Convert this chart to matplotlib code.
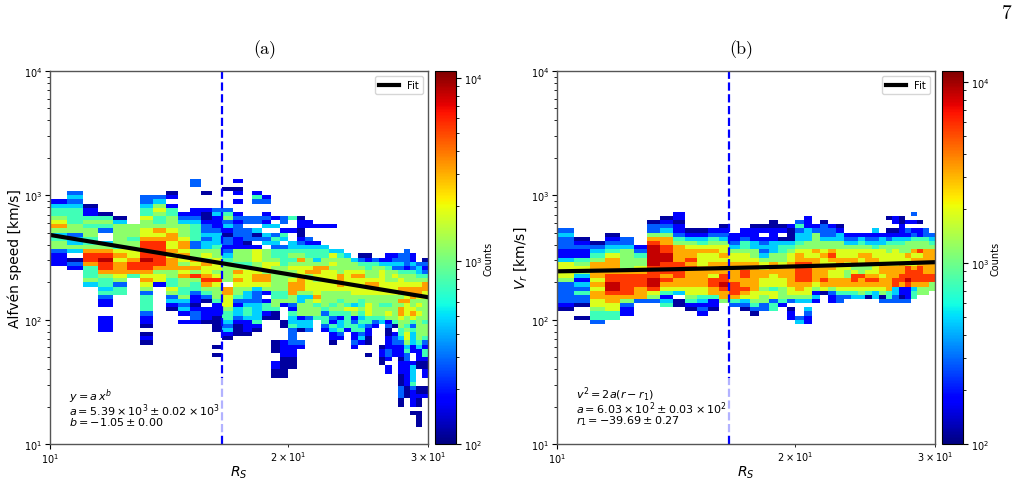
import numpy as np
import matplotlib
matplotlib.use('Agg')
import matplotlib.pyplot as plt
from matplotlib.colors import LogNorm

# Histogram counts are kept as one string per R_S bin: (top speed bin, classes going down).
# "." is an empty cell, a digit is an index into count_classes
count_classes = [115, 176, 281, 472, 750, 1150, 1840, 3200, 5670, 8650]

r_edges = np.arange(10, 30.5, 0.5)
speed_edges = np.logspace(1, 4, 91)

alfven_cols = [
    (58, "1344567534552111"),
    (60, "232344445523353.021"),
    (57, "01145455445788744453"),
    (55, "04542..3578988754434211..1111"),
    (54, "0355555467677765244"),
    (52, "5554556678874"),
    (59, "22344655667888898876765244442110.010"),
    (59, "2356544576788888875661"),
    (60, "01.14455567766767775544652310"),
    (55, "1235556776765767554453231.1"),
    (63, "22.....1123444422557675854421101221"),
    (60, "0...10012232335657667875420.1110"),
    (56, "231112333455666568655541110000...0.0"),
    (61, "0....245231022123455555.7766654432310"),
    (63, "1.01.1..121222111555457676554213321000"),
    (54, "22.22201555456666533234431110"),
    (60, "142...22.302.166655677632223333410"),
    (59, "12..1213.323.55566577651.14410"),
    (54, "1.3.243244565555554455400.....000..1100"),
    (54, "22.143.244445555554451...00...111100000"),
    (54, "4..1..3345456556777552143342222111000"),
    (54, "0110012345756667775335551330..21"),
    (53, "11..21344556756665355552332"),
    (52, "1...1344357765666764554"),
    (52, "1....344557666665555424421"),
    (52, "1.....36565666665554542143110"),
    (46, "3455557776554554133421"),
    (45, "3555666665554644441"),
    (44, "3556766665536512441121"),
    (45, "0245676666544543434231"),
    (45, "0144556766556664421100..0"),
    (44, "24555676655555421"),
    (44, "1356666665545543.....01100"),
    (45, "11345556665545651200111221.11"),
    (45, "123256566655555540.122111"),
    (45, "2232456677575776554432111011100022200"),
    (46, "222214556776766655456653422111111000"),
    (45, "113245567775567642433311..13333421111.0"),
    (43, "23345677656565555554311100....00100.0000"),
    (44, "02124577665555545554214410011..001"),
]

vr_cols = [
    (51, "23222113666652222210"),
    (49, "01211456531324220..0"),
    (48, "02345777767677665442"),
    (50, "012346777788998776644"),
    (49, "2235555578888875211"),
    (47, "12455678887772"),
    (53, "02257899999888998652"),
    (54, "0123577889988878764134"),
    (55, "11011245777788887763.00"),
    (51, "01356778787777665410"),
    (51, "013467666777776643121"),
    (51, "12456766777688774110"),
    (52, "0123566767878898775."),
    (50, "112356677777888742"),
    (51, "11244566778877876320"),
    (52, "0111335567777777665420"),
    (52, "01.123235667766565522"),
    (53, "0011133355777666466244"),
    (52, "01.03445567776655541"),
    (52, "1000345667777776652.011"),
    (53, "24233456778888877653...23"),
    (54, "111333556678888876653.3211"),
    (52, "1255557677777765131"),
    (53, "022235567667778760"),
    (52, "1223557876766775211"),
    (52, "0133556677666776422"),
    (50, "1235667665577642"),
    (50, "1235667756887643"),
    (50, "1345676655877653"),
    (50, "1235677756787640"),
    (51, "31234667666787633"),
    (50, "13356667776776502"),
    (54, "0..012455666777777442"),
    (54, "11.013456666777883322"),
    (54, "001113455667778871102"),
    (53, "1.213555766888981112"),
    (55, "2.1.12455767678887344"),
    (53, "0.1145586778888755"),
    (51, "2245577777788755"),
    (50, "23457777778855"),
]

# Fit parameters printed on each panel
alfven_a = 5.39e3
alfven_b = -1.05
vr_a = 6.03e2
vr_r1 = -39.69

r_break = 16.5
r_fit = [10, 11, 12, 14, 16, 18, 20, 22, 24, 26, 28, 30]


# Turns the column strings into the 2D array for pcolormesh
def buildCounts(cols):
    counts = np.full((len(speed_edges) - 1, len(r_edges) - 1), np.nan)
    for col, (top, levels) in enumerate(cols):
        for n, ch in enumerate(levels):
            if ch != '.':
                counts[top - n, col] = count_classes[int(ch)]
    return counts


def drawPanel(pos, cbar_pos, cols, vmax, fit, ylabel, title, title_x, note):
    ax = fig.add_axes(pos)
    mesh = ax.pcolormesh(r_edges, speed_edges, buildCounts(cols), cmap='jet',
                         norm=LogNorm(vmin=100, vmax=vmax))
    ax.set_xscale('log')
    ax.set_yscale('log')
    ax.set_xlim(10, 30)
    ax.set_ylim(10, 1e4)
    ax.axvline(r_break, color='b', linestyle='--', linewidth=1.6)
    ax.plot(r_fit, fit, color='k', linewidth=3, label='Fit')
    ax.legend(loc='upper right', fontsize=7.2)
    ax.set_xlabel(r'$R_S$', fontsize=10, labelpad=-1)
    ax.set_ylabel(ylabel, fontsize=10, labelpad=1)
    ax.tick_params(which='both', labelsize=7, pad=2)
    ax.text(0.05, 0.045, note, transform=ax.transAxes, fontsize=8, va='bottom',
            linespacing=0.72, bbox=dict(facecolor='white', alpha=0.7, edgecolor='none', pad=4))
    for spine in ax.spines.values():
        spine.set_color('#555555')
        spine.set_linewidth(1.0)

    cax = fig.add_axes(cbar_pos)
    cbar = fig.colorbar(mesh, cax=cax)
    cbar.set_label('Counts', fontsize=7, labelpad=1)
    cbar.ax.tick_params(which='both', labelsize=7, pad=2)

    fig.text(title_x / W, 1 - 50 / H, title, family='cmr10', fontsize=13, ha='center', va='center')
    return ax


W, H = 1021, 485
fig = plt.figure(figsize=(W / 100, H / 100), dpi=100)


def box(left, right, top, bottom):
    return [left / W, 1 - bottom / H, (right - left) / W, (bottom - top) / H]


r_arr = np.array(r_fit, dtype=float)
alfven_fit = alfven_a * r_arr ** alfven_b
vr_fit = np.sqrt(2 * vr_a * (r_arr - vr_r1))

alfven_note = ('$y = a\\,x^{b}$\n'
               '$a = 5.39 \\times 10^{3} \\pm 0.02 \\times 10^{3}$\n'
               '$b = -1.05 \\pm 0.00$')
vr_note = ('$v^{2} = 2a(r - r_{1})$\n'
           '$a = 6.03 \\times 10^{2} \\pm 0.03 \\times 10^{2}$\n'
           '$r_{1} = -39.69 \\pm 0.27$')

drawPanel(box(50, 428, 72, 445), box(435, 456, 72, 445), alfven_cols, 10900, alfven_fit,
          'Alfvén speed [km/s]', '(a)', 265, alfven_note)
drawPanel(box(557, 935, 72, 445), box(942, 963, 72, 445), vr_cols, 11500, vr_fit,
          r'$V_r$ [km/s]', '(b)', 741, vr_note)

# page number
fig.text(1007 / W, 1 - 14 / H, '7', family='cmr10', fontsize=14, ha='center', va='center')

fig.savefig('out.png', dpi=100)
